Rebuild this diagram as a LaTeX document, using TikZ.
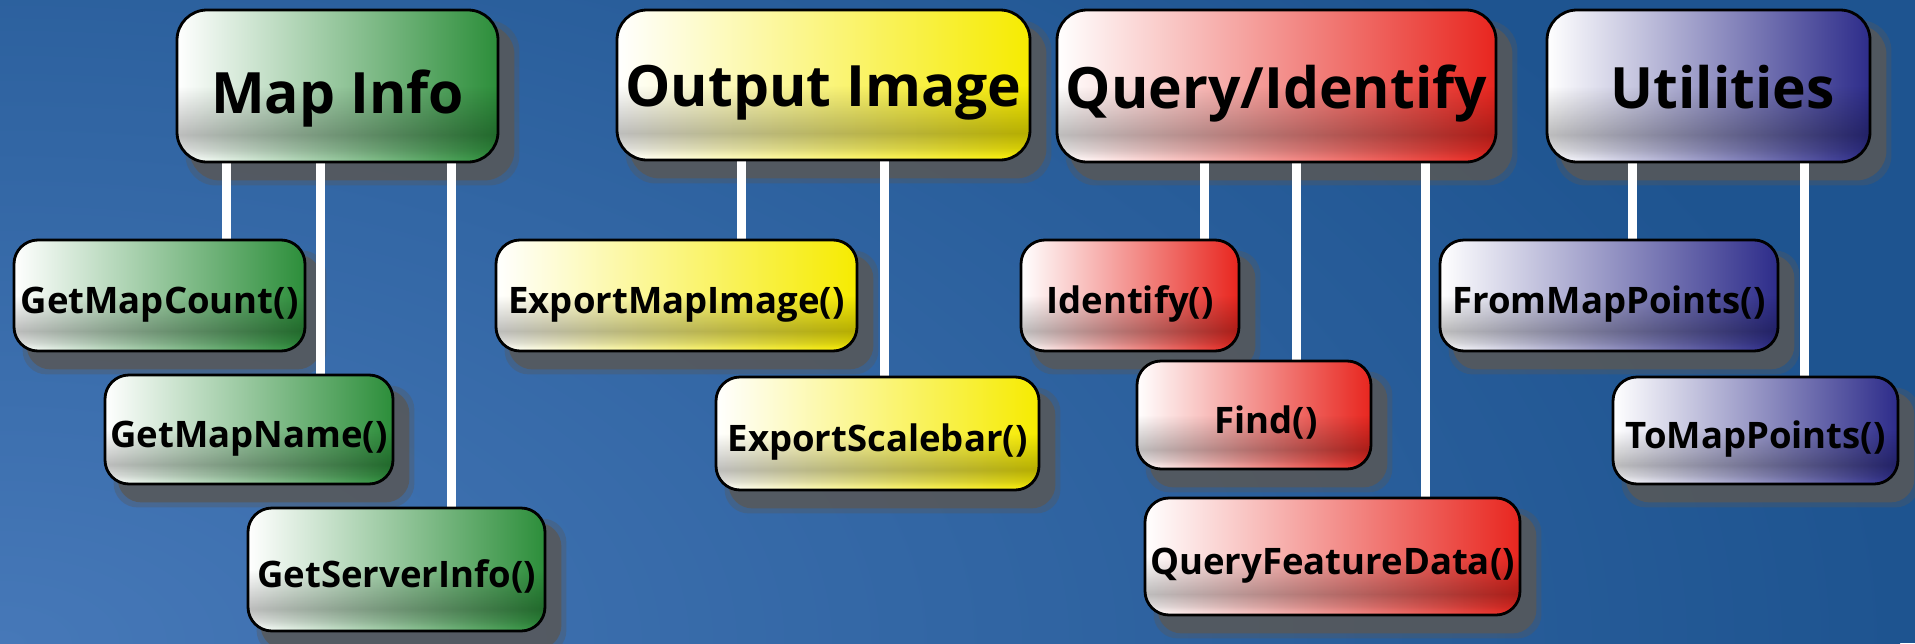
\documentclass[tikz,border=0pt]{standalone}
\usepackage{fontspec}
\setmainfont{Open Sans}
\usetikzlibrary{fadings}
\pgfdeclarelayer{bg}
\pgfdeclarelayer{shade}
\pgfdeclarelayer{wires}
\pgfsetlayers{bg,shade,wires,main}

\definecolor{bgLight}{HTML}{4678B8}
\definecolor{bgDark}{HTML}{1E5490}
\definecolor{cGreen}{HTML}{2C8E3A}
\definecolor{cYellow}{HTML}{F6EB00}
\definecolor{cRed}{HTML}{E8261F}
\definecolor{cPurple}{HTML}{2D2C8A}
\definecolor{shadowGray}{HTML}{585858}

% soft dark band in the lower part of each box
\pgfdeclareverticalshading{lowbandshade}{100bp}{color(0bp)=(black); color(26bp)=(black); color(29bp)=(white!50!black); color(34bp)=(white); color(50bp)=(black); color(100bp)=(black)}
\pgfdeclarefading{lowband}{\pgfuseshading{lowbandshade}}

\begin{document}
\begin{tikzpicture}[x=1pt,y=-1pt,
  box/.style={draw=black, line width=2.8pt, rounded corners=24pt, inner sep=0pt,
    font=\bfseries\fontsize{36.5}{40}\selectfont, text height=26pt, text depth=0pt,
    postaction={fill=black, fill opacity=0.26, path fading=lowband}},
  head/.style={box, rounded corners=30pt,
    font=\bfseries\fontsize{57}{62}\selectfont, text height=41pt},
  grn/.style={left color=white, right color=cGreen},
  ylw/.style={left color=white, right color=cYellow},
  rd/.style={left color=white, right color=cRed},
  prp/.style={left color=white, right color=cPurple},
  wire/.style={draw=white, line width=9pt},
  shadowsoft/.style={fill=shadowGray, opacity=0.35},
  shadowcore/.style={fill=shadowGray, opacity=0.8},
]
% page frame
\useasboundingbox (0,0) rectangle (1915,643);

% backdrop: blue, lighter towards the lower left
\begin{pgfonlayer}{bg}
  \fill[bgDark] (0,0) rectangle (1915,643);
  \begin{scope}
    \clip (0,0) rectangle (1915,643);
    \shade[inner color=bgLight, outer color=bgDark] (0,643) ellipse [x radius=1900, y radius=1000];
  \end{scope}
\end{pgfonlayer}

% ---------- Map Info ----------
\node[head, grn, minimum width=321pt, minimum height=152pt] (mapinfo) at (337.5,86) {\raisebox{-7pt}{Map Info}};
\node[box, grn, minimum width=291pt, minimum height=111pt] (getmapcount) at (159.5,295.5) {\raisebox{-5pt}{GetMapCount()}};
\node[box, grn, minimum width=288pt, minimum height=109pt] (getmapname) at (249,429.5) {\raisebox{-5pt}{GetMapName()}};
\node[box, grn, minimum width=297pt, minimum height=123pt] (getserverinfo) at (396.5,569.5) {\raisebox{-5pt}{GetServerInfo()}};

% ---------- Output Image ----------
\node[head, ylw, minimum width=413pt, minimum height=150pt] (outputimage) at (823.5,85) {\raisebox{-1pt}{Output Image}};
\node[box, ylw, minimum width=361pt, minimum height=111pt] (exportmapimage) at (676.5,295.5) {\raisebox{-5pt}{ExportMapImage()}};
\node[box, ylw, minimum width=323pt, minimum height=113pt] (exportscalebar) at (877.5,433.5) {\raisebox{-5pt}{ExportScalebar()}};

% ---------- Query/Identify ----------
\node[head, rd, minimum width=439pt, minimum height=152pt] (queryidentify) at (1276.5,86) {\raisebox{-2pt}{Query/Identify}};
\node[box, rd, minimum width=218pt, minimum height=111pt] (identify) at (1130,295.5) {\raisebox{-5pt}{Identify()}};
\node[box, rd, minimum width=234pt, minimum height=108pt] (find) at (1254,415) {\raisebox{-5pt}{\hspace*{24pt}Find()}};
\node[box, rd, minimum width=375pt, minimum height=117pt] (queryfeaturedata) at (1332.5,556.5) {\raisebox{-5pt}{QueryFeatureData()}};

% ---------- Utilities ----------
\node[head, prp, minimum width=323pt, minimum height=152pt] (utilities) at (1708.5,86) {\raisebox{-2pt}{\hspace*{28pt}Utilities}};
\node[box, prp, minimum width=338pt, minimum height=111pt] (frommappoints) at (1609,295.5) {\raisebox{-5pt}{FromMapPoints()}};
\node[box, prp, minimum width=285pt, minimum height=107pt] (tomappoints) at (1755.5,430.5) {\raisebox{-5pt}{ToMapPoints()}};

% drop shadows behind every box
\begin{pgfonlayer}{shade}
  \foreach \n/\r in {mapinfo/30, outputimage/30, queryidentify/30, utilities/30,
      getmapcount/24, getmapname/24, getserverinfo/24,
      exportmapimage/24, exportscalebar/24,
      identify/24, find/24, queryfeaturedata/24,
      frommappoints/24, tomappoints/24} {
    \fill[shadowsoft, rounded corners=\r pt] ([shift={(10,12)}]\n.north west) rectangle ([shift={(20,22)}]\n.south east);
    \fill[shadowcore, rounded corners=\r pt] ([shift={(14,16)}]\n.north west) rectangle ([shift={(15,17)}]\n.south east);
  }
\end{pgfonlayer}

% connector columns
\coordinate (c1) at (226,0);
\coordinate (c2) at (320,0);
\coordinate (c3) at (451,0);
\coordinate (c4) at (741,0);
\coordinate (c5) at (884,0);
\coordinate (c6) at (1204,0);
\coordinate (c7) at (1296,0);
\coordinate (c8) at (1425,0);
\coordinate (c9) at (1632,0);
\coordinate (c10) at (1804,0);

\begin{pgfonlayer}{wires}
  \draw[wire] (mapinfo.south -| c1) -- (getmapcount.north -| c1);
  \draw[wire] (mapinfo.south -| c2) -- (getmapname.north -| c2);
  \draw[wire] (mapinfo.south -| c3) -- (getserverinfo.north -| c3);
  \draw[wire] (outputimage.south -| c4) -- (exportmapimage.north -| c4);
  \draw[wire] (outputimage.south -| c5) -- (exportscalebar.north -| c5);
  \draw[wire] (queryidentify.south -| c6) -- (identify.north -| c6);
  \draw[wire] (queryidentify.south -| c7) -- (find.north -| c7);
  \draw[wire] (queryidentify.south -| c8) -- (queryfeaturedata.north -| c8);
  \draw[wire] (utilities.south -| c9) -- (frommappoints.north -| c9);
  \draw[wire] (utilities.south -| c10) -- (tomappoints.north -| c10);
\end{pgfonlayer}
\end{tikzpicture}
\end{document}
